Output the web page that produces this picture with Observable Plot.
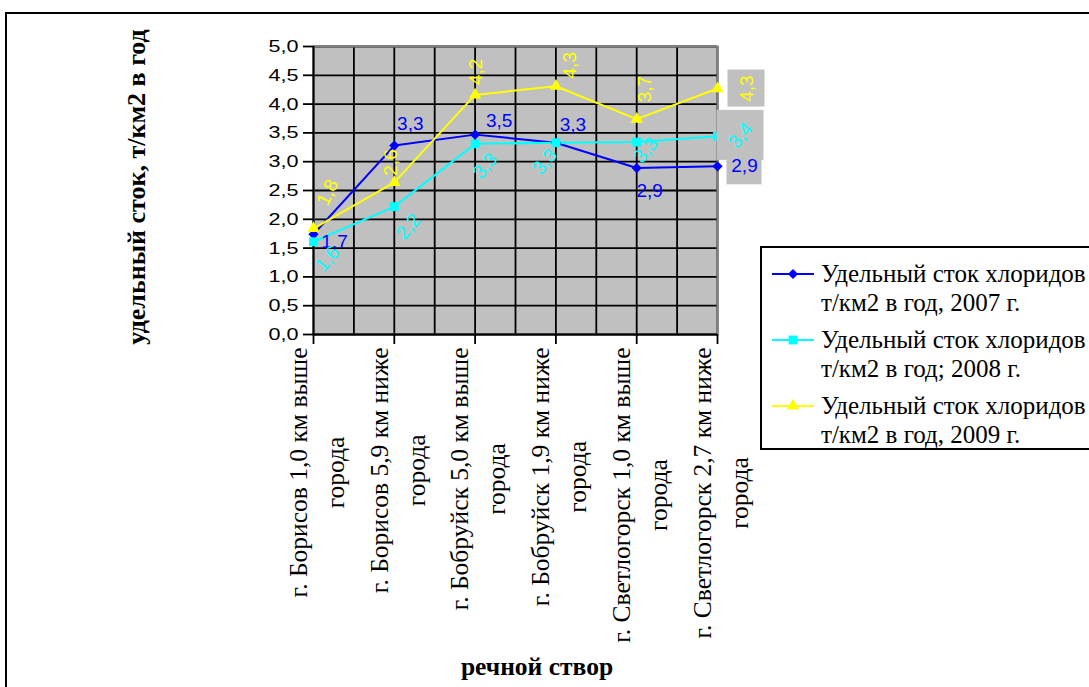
<!DOCTYPE html>
<html>
<head>
<meta charset="utf-8">
<script src="https://cdn.jsdelivr.net/npm/d3@7"></script>
<script src="https://cdn.jsdelivr.net/npm/@observablehq/plot@0.6"></script>
<style>
  body { margin: 0; background: #fff; }
  #wrap { position: relative; width: 1089px; height: 687px; overflow: hidden; background: #fff; }
  #wrap > svg { position: absolute; left: 0; top: 0; }
  .outer { position: absolute; left: 5px; top: 12px; width: 1200px; height: 800px; border: 2px solid #000; box-sizing: border-box; }
  .title { position: absolute; font-family: "Liberation Serif", "Times New Roman", serif; font-weight: bold; font-size: 25.5px; white-space: nowrap; color: #000; }
  .legend { position: absolute; left: 760px; top: 246px; width: 400px; height: 204px; border: 2px solid #000; box-sizing: border-box; background: #fff; }
  .legend .item { position: absolute; left: 8px; font-family: "Liberation Serif", "Times New Roman", serif; font-size: 25px; line-height: 29px; color: #000; }
  .legend .item svg { position: absolute; left: 0; top: 0; }
  .legend .item span { display: block; margin-left: 51px; white-space: nowrap; }
</style>
</head>
<body>
<div id="wrap"></div>
<script>
// River monitoring sites (category axis)
const categories = [
  "г. Борисов 1,0 км выше города",
  "г. Борисов 5,9 км ниже города",
  "г. Бобруйск 5,0 км выше города",
  "г. Бобруйск 1,9 км ниже города",
  "г. Светлогорск 1,0 км выше города",
  "г. Светлогорск 2,7 км ниже города"
];

// Specific chloride runoff, t/km2 per year
const values2007 = [1.74, 3.28, 3.47, 3.33, 2.89, 2.92];
const values2008 = [1.61, 2.22, 3.31, 3.33, 3.34, 3.44];
const values2009 = [1.84, 2.64, 4.16, 4.31, 3.74, 4.27];

const seriesNames = [
  ["Удельный сток хлоридов", "т/км2 в год, 2007 г."],
  ["Удельный сток хлоридов", "т/км2 в год; 2008 г."],
  ["Удельный сток хлоридов", "т/км2 в год, 2009 г."]
];

const yTicks = [0, 0.5, 1, 1.5, 2, 2.5, 3, 3.5, 4, 4.5, 5];
const xGridSteps = [0, 0.5, 1, 1.5, 2, 2.5, 3, 3.5, 4, 4.5, 5];

const yTitle = "удельный сток, т/км2 в год";
const xTitle = "речной створ";

// ---- styling ----
const colors = ["#0000FF", "#00FFFF", "#FFFF00"];
const symbols = ["diamond2", "square", "triangle"];
const symbolR = [4.6, 5, 4.6];
const serif = "'Liberation Serif', 'Times New Roman', serif";
const sans = "'Liberation Sans', Arial, sans-serif";
const fmt = v => v.toFixed(1).replace(".", ",");

// data-label placement per point: [dx, dy, rotate]
const labelPlacement = [
  [[21, 8, 0], [16, -22, 0], [24, -14, 0], [17, -18, 0], [13, 23, 0], [27, 0, 0]],
  [[14, 17, -50], [14, 20, -50], [10, 22, -50], [-11, 19, -50], [9, 8, -50], [23, -1, -50]],
  [[14, -36, -65], [-3, -20, -90], [1, -23, -90], [14, -21, -90], [8, -30, -90], [29, 0, -90]]
];
// half-size of the grey box behind the last label of each series
const endBoxHalf = [[17.5, 18.5], [23.5, 25], [18.5, 18.5]];

const seriesValues = [values2007, values2008, values2009];
const series = seriesValues.map((vals, s) =>
  vals.map((v, i) => ({i, v, s}))
);

const marks = [];
// plot area background and grid
marks.push(Plot.frame({fill: "#C0C0C0"}));
marks.push(Plot.ruleX(xGridSteps, {stroke: "#000", strokeWidth: 1.8}));
marks.push(Plot.ruleY(yTicks, {stroke: "#000", strokeWidth: 1.8}));
marks.push(Plot.frame({stroke: "#808080", strokeWidth: 2}));
marks.push(Plot.ruleX([0], {stroke: "#000", strokeWidth: 1.8}));
marks.push(Plot.ruleY([0], {stroke: "#000", strokeWidth: 1.8}));

// axes
marks.push(Plot.axisY({
  ticks: yTicks, tickSize: 10, tickPadding: 5, tickFormat: fmt, label: null,
  fontSize: 17, fontFamily: sans, stroke: "#000", strokeWidth: 1.8, fill: "#000"
}));
marks.push(Plot.axisX({
  ticks: categories.map((c, i) => i), tickSize: 10, tickFormat: () => "", label: null,
  stroke: "#000", strokeWidth: 1.8
}));

// category labels: wrapped, rotated, block centred under each tick
const xLabelSize = 25.5;
const ctx = document.createElement("canvas").getContext("2d");
ctx.font = `${xLabelSize}px ${serif}`;
categories.forEach((name, i) => {
  const first = name.replace(/ города$/, "");
  const w = ctx.measureText(first).width;
  marks.push(Plot.text([i], {
    x: d => d, frameAnchor: "bottom",
    text: () => first + "\nгорода",
    rotate: -90, textAnchor: "middle", lineAnchor: "middle", lineHeight: 1.45,
    dy: 13 + w / 2, fontSize: xLabelSize, fontFamily: serif, fill: "#000"
  }));
});

// series lines and markers
series.forEach((data, s) => {
  marks.push(Plot.line(data, {x: "i", y: "v", stroke: colors[s], strokeWidth: 2}));
});
series.forEach((data, s) => {
  marks.push(Plot.dot(data, {x: "i", y: "v", symbol: () => symbols[s], r: symbolR[s], fill: colors[s], stroke: "none"}));
});

// grey boxes behind last labels
series.forEach((data, s) => {
  const last = data[data.length - 1];
  const [dx, dy] = labelPlacement[s][last.i];
  const [hw, hh] = endBoxHalf[s];
  marks.push(Plot.rect([last], {
    x1: "i", x2: "i", y1: "v", y2: "v", dx, dy,
    insetLeft: -hw, insetRight: -hw, insetTop: -hh, insetBottom: -hh,
    fill: "#C0C0C0"
  }));
});

// data labels
series.forEach((data, s) => {
  data.forEach(d => {
    const [dx, dy, rot] = labelPlacement[s][d.i];
    marks.push(Plot.text([d], {
      x: "i", y: "v", text: p => fmt(p.v), dx, dy, rotate: rot,
      textAnchor: "middle", lineAnchor: "middle",
      fontSize: 19, fontFamily: sans, fill: colors[s]
    }));
  });
});

const chart = Plot.plot({
  width: 1089, height: 687,
  marginLeft: 313, marginRight: 372, marginTop: 46, marginBottom: 353,
  x: {type: "linear", domain: [0, categories.length - 1]},
  y: {domain: [0, 5]},
  style: {background: "transparent", overflow: "visible"},
  marks
});

// value-axis numerals are set in a wide face
chart.querySelectorAll('[aria-label="y-axis tick label"] text').forEach(t => {
  t.setAttribute("textLength", 30);
  t.setAttribute("lengthAdjust", "spacingAndGlyphs");
});

const wrap = document.getElementById("wrap");
const outer = document.createElement("div");
outer.className = "outer";
wrap.appendChild(outer);
wrap.appendChild(chart);

// axis titles
const yt = document.createElement("div");
yt.className = "title";
yt.style.fontSize = "26px";
yt.textContent = yTitle;
yt.style.left = "137px"; yt.style.top = "187px";
yt.style.transform = "translate(-50%, -50%) rotate(-90deg)";
wrap.appendChild(yt);

const xt = document.createElement("div");
xt.className = "title";
xt.textContent = xTitle;
xt.style.left = "537px"; xt.style.top = "667px";
xt.style.transform = "translate(-50%, -50%)";
wrap.appendChild(xt);

// legend
const legend = document.createElement("div");
legend.className = "legend";
wrap.appendChild(legend);
seriesNames.forEach((lines, s) => {
  const item = document.createElement("div");
  item.className = "item";
  item.style.top = (11 + s * 66) + "px";
  const svg = d3.create("svg").attr("width", 46).attr("height", 29);
  svg.append("line").attr("x1", 2).attr("x2", 44).attr("y1", 15).attr("y2", 15)
    .attr("stroke", colors[s]).attr("stroke-width", 2);
  const sym = {diamond2: d3.symbolDiamond2, square: d3.symbolSquare, triangle: d3.symbolTriangle}[symbols[s]];
  svg.append("path").attr("transform", "translate(23,15)")
    .attr("d", d3.symbol(sym, Math.PI * symbolR[s] * symbolR[s])())
    .attr("fill", colors[s]);
  item.appendChild(svg.node());
  lines.forEach(t => {
    const sp = document.createElement("span");
    sp.textContent = t;
    item.appendChild(sp);
  });
  legend.appendChild(item);
});
</script>
</body>
</html>
